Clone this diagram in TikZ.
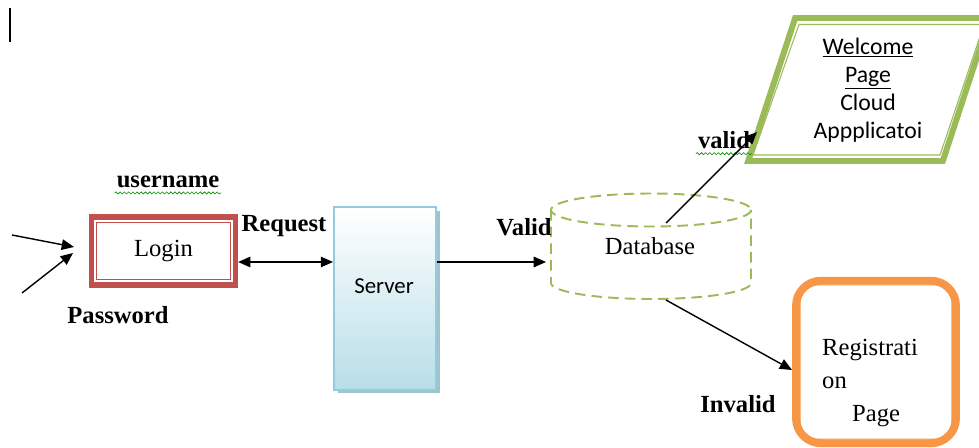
\documentclass[tikz,border=0pt]{standalone}
\usepackage{fontspec}
\setmainfont{Liberation Serif}
\newfontfamily\calibri{Carlito}
\usetikzlibrary{arrows.meta,shadows,decorations.pathmorphing}
\definecolor{loginred}{HTML}{C0504D}
\definecolor{servedge}{HTML}{93CDDD}
\definecolor{servfill}{HTML}{B7DEE8}
\definecolor{dbgreen}{HTML}{9BBB59}
\definecolor{regorange}{HTML}{F79646}
\tikzset{
  lbl/.style={font=\fontsize{14}{16}\selectfont\bfseries,inner sep=1pt},
  txt/.style={font=\fontsize{14}{16}\selectfont},
  arr/.style={line width=0.8pt,-{Triangle[length=7pt,width=6pt]}},
  dblarr/.style={line width=0.8pt,{Triangle[length=7pt,width=6pt]}-{Triangle[length=7pt,width=6pt]}},
  squig/.style={draw=green!55!black,line width=0.35pt,decorate,decoration={snake,amplitude=0.6pt,segment length=2.4pt}},
  loginbox/.style={draw=loginred,line width=3pt,minimum width=2.88cm,minimum height=1.36cm,txt},
  servbox/.style={draw=servedge,line width=1.1pt,top color=white,bottom color=servfill,minimum width=2.04cm,minimum height=3.66cm,
    drop shadow={shadow xshift=2pt,shadow yshift=-2pt,fill=servfill!70!gray,opacity=1}},
  dbline/.style={draw=dbgreen,line width=1.1pt,dash pattern=on 6pt off 3.5pt},
  regbox/.style={draw=regorange,line width=4.5pt,rounded corners=0.5cm,minimum width=3.2cm,minimum height=3.25cm}
}
\begin{document}
\begin{tikzpicture}[x=0.02cm,y=-0.02cm]
\useasboundingbox (0,0) rectangle (979,448);
\draw[line width=1.6pt] (10,8) -- (10,42);

\node[loginbox] (login) at (163.5,251) {Login};
\draw[loginred,line width=0.6pt] ([shift={(8,8.5)}]login.north west) rectangle ([shift={(-8,-8.5)}]login.south east);
\node[lbl] (username) at (168,182) {username};
\draw[squig] ([yshift=-3pt]username.base west) -- ([yshift=-3pt]username.base east);
\node[lbl] (password) at (118,315) {Password};
\coordinate (userin) at (12,235);
\coordinate (userend) at (74,247);
\coordinate (passin) at (22,293);
\coordinate (passend) at (73,253);
\draw[arr] (userin) -- (userend);
\draw[arr] (passin) -- (passend);

\node[servbox] (server) at (385,298.5) {};
\node[font=\calibri\fontsize{13}{15}\selectfont] (servtxt) at (384,286) {Server};
\node[lbl] (request) at (284,226) {Request};
\draw[dblarr] (login.east |- 0,262) -- (server.west |- 0,262);

\draw[dbline] (651,210) ellipse[x radius=100,y radius=16.5];
\draw[dbline] (551,210) -- (551,283) arc[start angle=180,end angle=0,x radius=100,y radius=16] -- (751,210);
\node[txt] (db) at (650,246) {Database};
\coordinate (dbin) at (546,262);
\coordinate (dbtop) at (666,223);
\coordinate (dbbot) at (666,300);
\node[lbl] (valid) at (524,227) {Valid};
\draw[arr] (server.east |- dbin) -- (dbin);

\draw[dbgreen,line width=3.4pt] (795.2,18) -- (989.8,18) -- (942.8,161) -- (748.2,161) -- cycle;
\draw[dbgreen,line width=0.6pt] (799,24.5) -- (984,24.5) -- (940,155) -- (753,155) -- cycle;
\node[font=\calibri\fontsize{13.5}{16}\selectfont,align=center] (welcome) at (868,90)
  {\underline{Welcome}\\\underline{Page}\\Cloud\\Appplicatoi};
\coordinate (welcin) at (757,132);
\node[lbl] (validup) at (724,140) {valid};
\draw[squig] ([yshift=-3pt]validup.base west) -- ([yshift=-3pt]validup.base east);
\draw[arr] (dbtop) -- (welcin);

\node[regbox] (reg) at (876,362) {};
\draw[regorange,line width=0.6pt,rounded corners=0.36cm] ([shift={(8,8)}]reg.north west) rectangle ([shift={(-8,-8)}]reg.south east);
\node[txt,align=left,anchor=west] (regtxt) at (816,383) {Registrati\\[3pt]on\\[3pt]\hspace*{0.6cm}Page};
\node[lbl] (invalid) at (738,404) {Invalid};
\draw[arr] (dbbot) -- ([yshift=-0.16cm]reg.west);
\end{tikzpicture}
\end{document}
